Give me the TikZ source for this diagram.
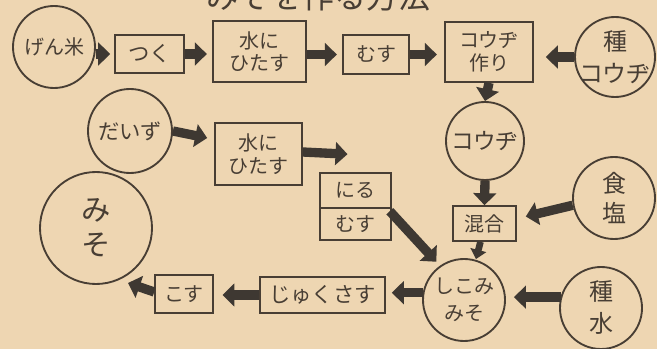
\documentclass[tikz,border=0pt]{standalone}
\usepackage{fontspec}
\setmainfont{Noto Sans CJK JP}
\usetikzlibrary{arrows.meta,calc}
\definecolor{paper}{RGB}{238,214,178}
\definecolor{ink}{RGB}{72,62,52}
\definecolor{arr}{RGB}{62,56,50}
\begin{document}
\begin{tikzpicture}[x=0.75pt,y=-0.75pt,
 box/.style={draw=ink,line width=1.2pt,text=ink,inner sep=0pt,align=center,font=\fontsize{15pt}{17pt}\selectfont},
 circ/.style={draw=ink,line width=1.4pt,circle,inner sep=0pt},
 lbl/.style={text=ink,align=center,inner sep=0pt},
 blk/.style={draw=arr,line width=7pt,-{Triangle[length=9pt,width=17pt]}},
 blks/.style={draw=arr,line width=5pt,-{Triangle[length=7pt,width=12pt]}},
]
\useasboundingbox (0,0) rectangle (657,349);
\clip (0,0) rectangle (657,349);
\fill[paper] (0,0) rectangle (657,349);

% title (cut off at the top)
\node[text=ink,anchor=base,inner sep=0pt,font=\fontsize{24pt}{24pt}\selectfont] (title) at (318,9) {みそを作る方法};

% circles
\node[circ,minimum size=61.5pt,label={[lbl,font=\fontsize{15pt}{17pt}\selectfont]center:げん米}] (genmai) at (54,47) {};
\node[circ,minimum size=60pt,label={[lbl,font=\fontsize{18pt}{24pt}\selectfont]center:種\\コウヂ}] (tanek) at (615,57) {};
\node[circ,minimum size=58.5pt,label={[lbl,font=\fontsize{17pt}{17pt}\selectfont]center:コウヂ}] (kouji) at (485,141) {};
\node[circ,minimum size=61.5pt,label={[lbl,font=\fontsize{18pt}{22pt}\selectfont]center:食\\塩}] (shokuen) at (614,198) {};
\node[circ,minimum size=61.5pt,label={[lbl,font=\fontsize{15pt}{20pt}\selectfont]center:しこみ\\みそ}] (shikomi) at (464,300) {};
\node[circ,minimum size=61.5pt,label={[lbl,font=\fontsize{18pt}{24pt}\selectfont]center:種\\水}] (tanemizu) at (601,308) {};
\node[circ,minimum size=84pt,label={[lbl,font=\fontsize{22pt}{26pt}\selectfont]center:み\\そ}] (miso) at (96,228) {};
\node[circ,minimum size=63pt,label={[lbl,font=\fontsize{16pt}{17pt}\selectfont]center:だいず}] (daizu) at (130,131) {};

% boxes
\node[box,minimum width=51.75pt,minimum height=28.5pt,font=\fontsize{16pt}{17pt}\selectfont] (tsuku) at (149.5,54) {つく};
\node[box,minimum width=69.75pt,minimum height=45.75pt] (mizu1) at (259.5,51.5) {水に\\ひたす};
\node[box,minimum width=49.5pt,minimum height=29.25pt] (musu1) at (376,54.5) {むす};
\node[box,minimum width=66pt,minimum height=45pt] (kj) at (489,52) {コウヂ\\作り};
\node[box,minimum width=47.25pt,minimum height=26.25pt] (kongou) at (484.5,223.5) {混合};
\node[box,minimum width=93.75pt,minimum height=27pt,font=\fontsize{16pt}{17pt}\selectfont] (jukusasu) at (322.5,295) {じゅくさす};
\node[box,minimum width=43.5pt,minimum height=28.5pt] (kosu) at (184,294) {こす};
\node[box,minimum width=65.25pt,minimum height=46.5pt] (mizu2) at (258.5,154) {水に\\ひたす};
\node[box,minimum width=53.25pt,minimum height=26.25pt] (niru) at (355.5,190.5) {にる};
\node[box,minimum width=53.25pt,minimum height=24pt] (musu2) at (355.5,224) {むす};

\coordinate (misoin) at (128,283);

% arrows
\draw[blk,shorten >=3pt] (genmai.east |- tsuku) -- (tsuku.west);
\draw[blk,shorten >=4pt] (tsuku.east) -- (mizu1.west |- tsuku);
\draw[blk,shorten >=4pt] (mizu1.east |- musu1) -- (musu1.west);
\draw[blk,shorten >=5.5pt] (musu1.east) -- (kj.west |- musu1);
\draw[blk,shorten >=9pt] (tanek.west) -- (kj.east |- tanek.west);
\draw[blk] (kj.south) -- (kouji.north);
\draw[blk] (kouji.south) -- (kongou.north);
\draw[blk] (shokuen.190) -- ($(kongou.east)+(9,-7)$);
\draw[blks] ($(kongou.south)+(-4,0)$) -- ($(shikomi.north)+(12,1)$);
\draw[blk,shorten >=6pt] (tanemizu.165) -- (shikomi.east |- tanemizu.165);
\draw[blk,shorten >=4.5pt] (shikomi.170) -- (jukusasu.east |- shikomi.170);
\draw[blk,shorten >=6.5pt] (jukusasu.west) -- (kosu.east |- jukusasu.west);
\draw[blk] ($(kosu.west)+(0,-2)$) -- (misoin);
\draw[blk] (daizu.east) -- ($(mizu2.west)+(-7,-16)$);
\draw[blk] ($(mizu2.east)+(0,-2)$) -- ($(niru.north)+(-8,-18)$);
\draw[blk,shorten >=4pt] ($(musu2.north east)+(-2,4)$) -- (shikomi.125);
\end{tikzpicture}
\end{document}
